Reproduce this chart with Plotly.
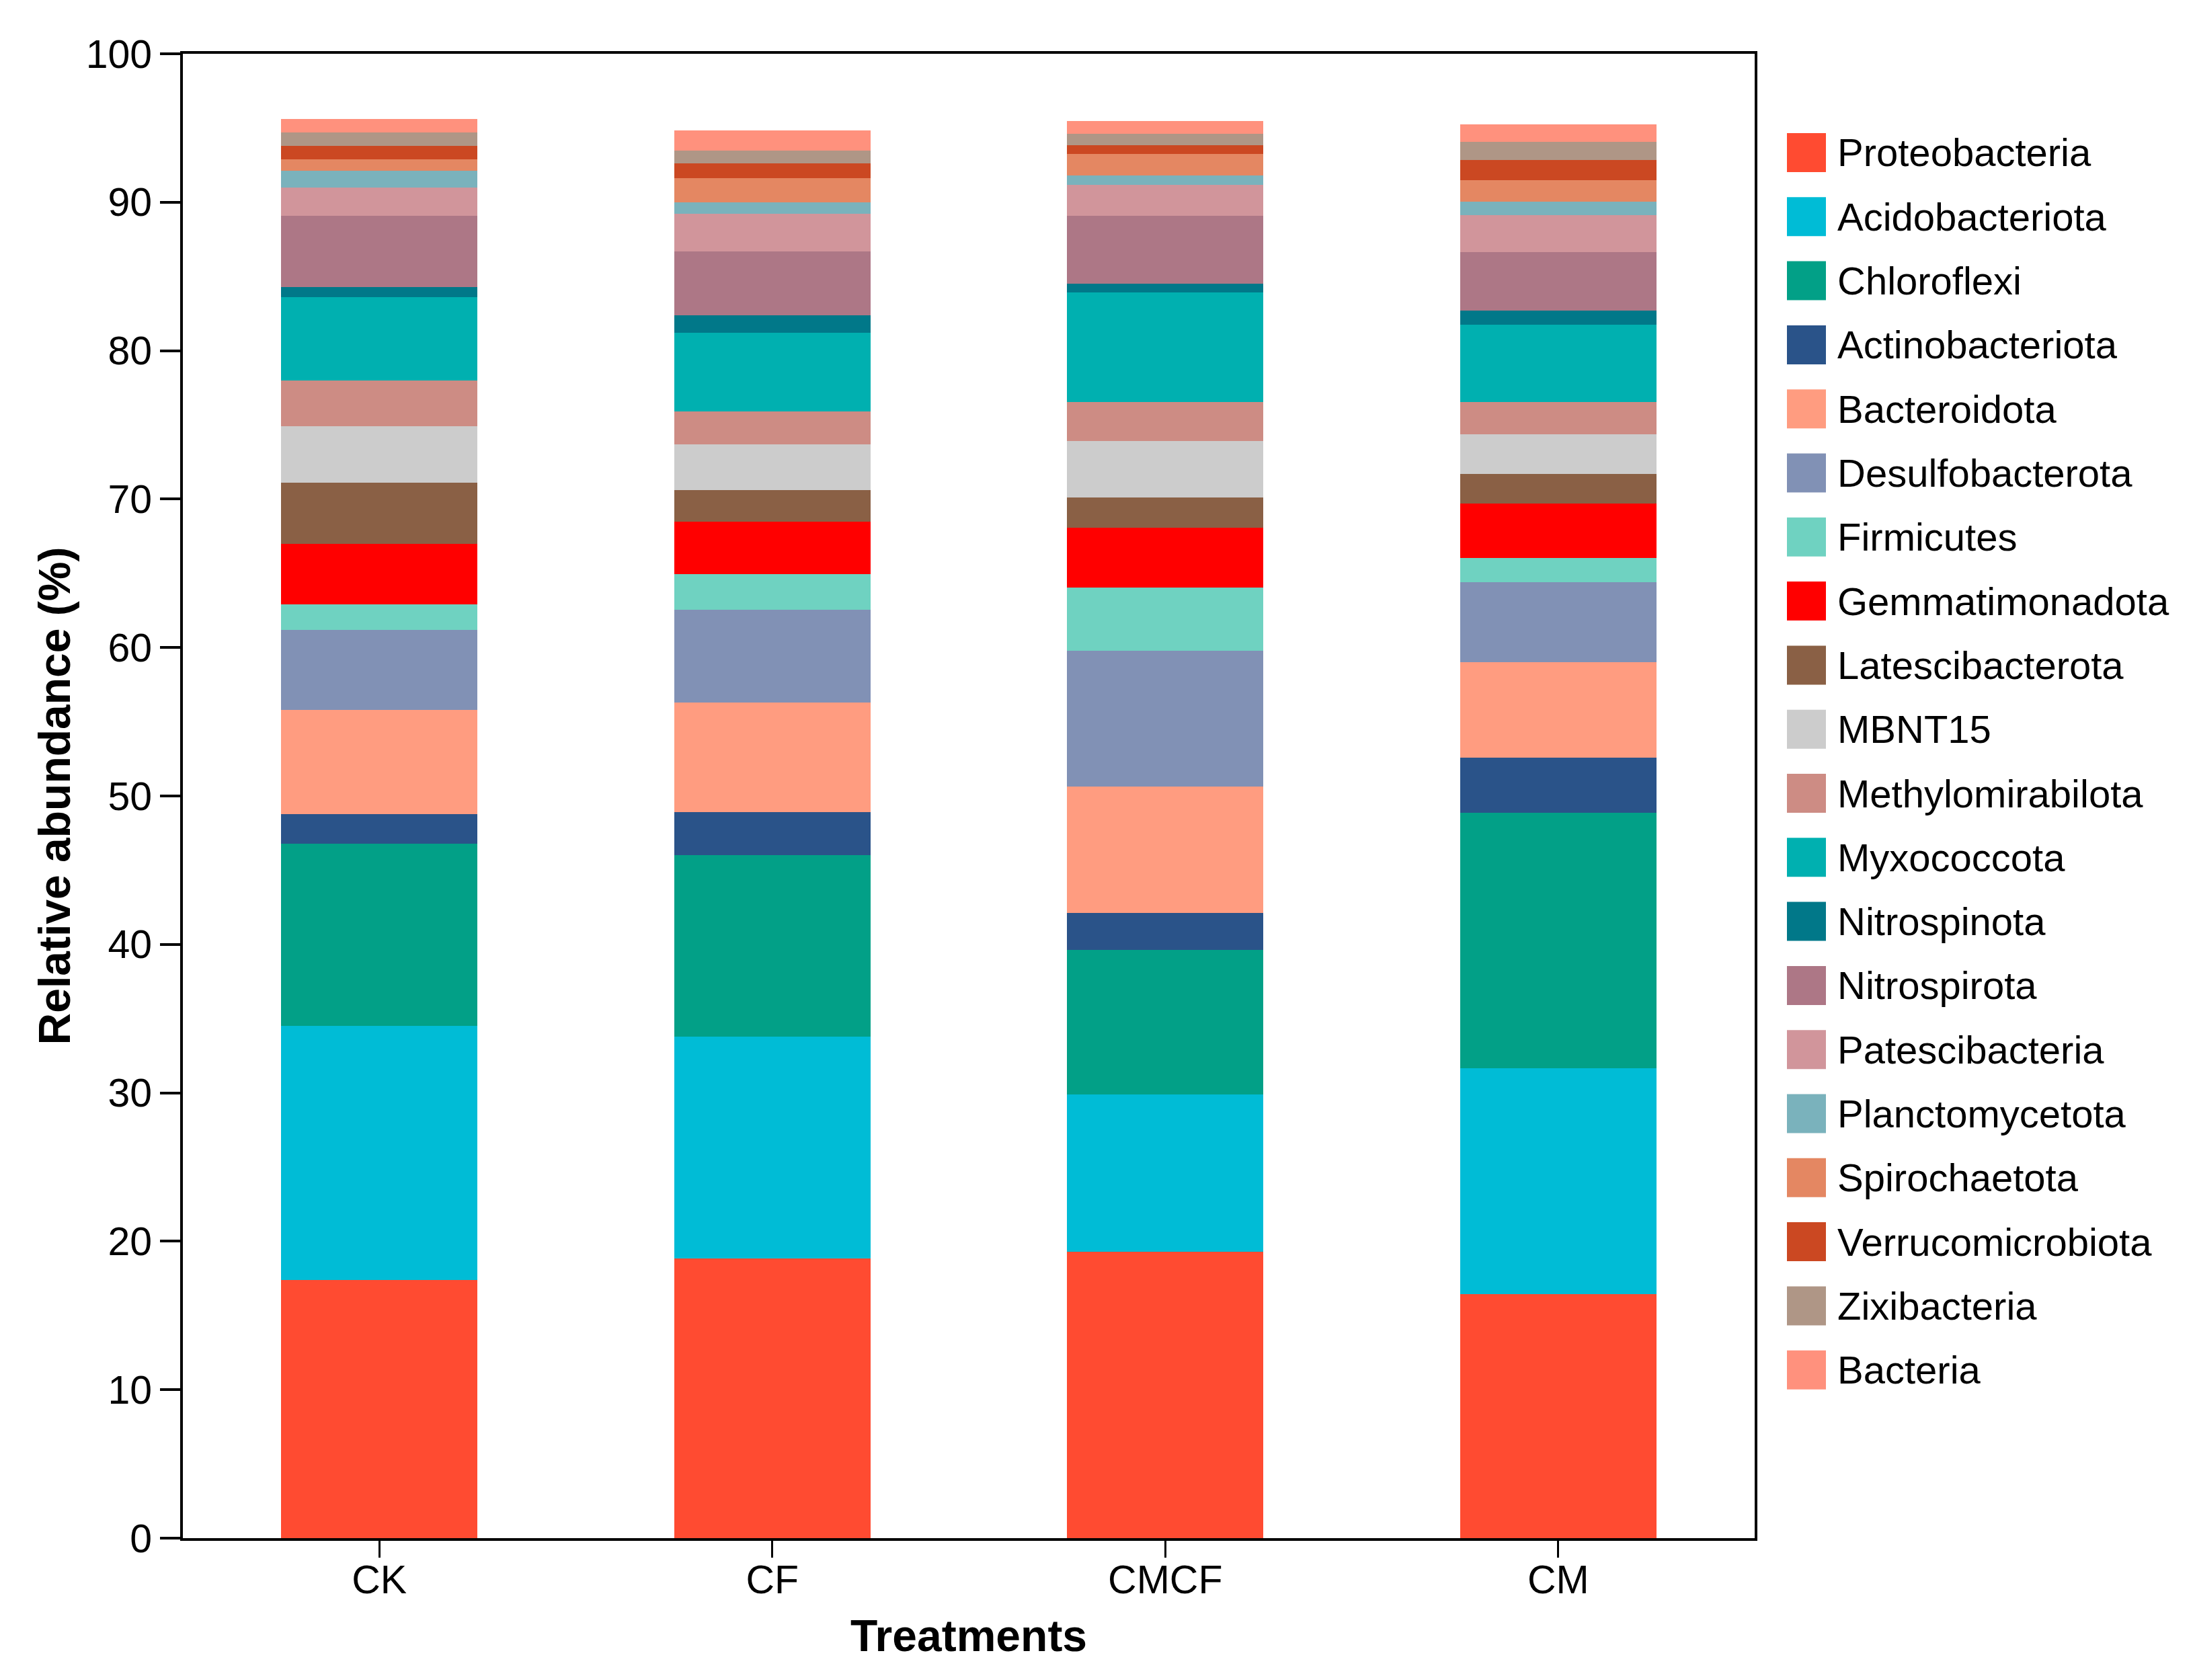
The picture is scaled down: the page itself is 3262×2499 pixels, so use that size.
import plotly.graph_objects as go

# ---------------- data ----------------
treatments = ["CK", "CF", "CMCF", "CM"]

proteobacteria    = [17.40, 18.85, 19.30, 16.45]
acidobacteriota   = [17.10, 14.95, 10.60, 15.20]
chloroflexi       = [12.30, 12.20,  9.75, 17.20]
actinobacteriota  = [ 2.00,  2.90,  2.45,  3.75]
bacteroidota      = [ 7.00,  7.40,  8.55,  6.40]
desulfobacterota  = [ 5.40,  6.25,  9.15,  5.40]
firmicutes        = [ 1.70,  2.40,  4.25,  1.65]
gemmatimonadota   = [ 4.10,  3.55,  4.00,  3.65]
latescibacterota  = [ 4.10,  2.10,  2.05,  2.00]
mbnt15            = [ 3.80,  3.10,  3.80,  2.65]
methylomirabilota = [ 3.10,  2.20,  2.65,  2.20]
myxococcota       = [ 5.60,  5.30,  7.35,  5.20]
nitrospinota      = [ 0.70,  1.20,  0.60,  0.95]
nitrospirota      = [ 4.80,  4.30,  4.60,  3.95]
patescibacteria   = [ 1.90,  2.50,  2.05,  2.50]
planctomycetota   = [ 1.10,  0.80,  0.65,  0.90]
spirochaetota     = [ 0.80,  1.60,  1.45,  1.45]
verrucomicrobiota = [ 0.90,  1.00,  0.60,  1.35]
zixibacteria      = [ 0.90,  0.90,  0.75,  1.20]
bacteria          = [ 0.90,  1.35,  0.85,  1.20]

phyla = ["Proteobacteria", "Acidobacteriota", "Chloroflexi", "Actinobacteriota",
         "Bacteroidota", "Desulfobacterota", "Firmicutes", "Gemmatimonadota",
         "Latescibacterota", "MBNT15", "Methylomirabilota", "Myxococcota",
         "Nitrospinota", "Nitrospirota", "Patescibacteria", "Planctomycetota",
         "Spirochaetota", "Verrucomicrobiota", "Zixibacteria", "Bacteria"]

series = [proteobacteria, acidobacteriota, chloroflexi, actinobacteriota,
          bacteroidota, desulfobacterota, firmicutes, gemmatimonadota,
          latescibacterota, mbnt15, methylomirabilota, myxococcota,
          nitrospinota, nitrospirota, patescibacteria, planctomycetota,
          spirochaetota, verrucomicrobiota, zixibacteria, bacteria]

colors = ["#FF4B31", "#00BCD6", "#02A087", "#2A5389",
          "#FF9C80", "#8191B5", "#6FD2C1", "#FF0000",
          "#8A6045", "#CCCCCC", "#CD8C84", "#00B0B0",
          "#017889", "#AD7786", "#D1959B", "#7AB2BC",
          "#E48762", "#CB4822", "#AF9686", "#FF917D"]

# ---------------- figure ----------------
OFF = 8                      # default page body margin
W, H = 3262 - 2 * OFF, 2499 - 2 * OFF
ML, MT = 272 - OFF, 80 - OFF
PW, PH = 2338, 2208
MR = W - ML - PW
MB = H - MT - PH
FONT = "Liberation Sans, Arial, sans-serif"

fig = go.Figure()
for name, vals, col in zip(phyla, series, colors):
    fig.add_trace(go.Bar(
        x=treatments, y=vals, name=name,
        marker=dict(color=col, line=dict(width=0)),
        width=0.5, showlegend=False,
    ))

# custom legend with large square keys (text stays real text)
leg_x0_px = 2658 - OFF
key_px = 58
row0_px = 227 - OFF
row_step_px = 95.3
shapes = []
annotations = []
for i, (name, col) in enumerate(zip(phyla, colors)):
    cy = row0_px + i * row_step_px
    yc = (MT + PH - cy) / PH
    half = key_px / 2 / PH
    x0 = (leg_x0_px - ML) / PW
    x1 = (leg_x0_px + key_px - ML) / PW
    shapes.append(dict(type="rect", xref="paper", yref="paper",
                       x0=x0, x1=x1, y0=yc - half, y1=yc + half,
                       fillcolor=col, line=dict(width=0)))
    annotations.append(dict(xref="paper", yref="paper",
                            x=(leg_x0_px + key_px + 15 - ML) / PW, y=yc,
                            xanchor="left", yanchor="middle", showarrow=False,
                            text=name, font=dict(family=FONT, size=58, color="black")))

fig.update_layout(
    width=W, height=H,
    barmode="stack",
    plot_bgcolor="white", paper_bgcolor="white",
    margin=dict(l=ML, r=MR, t=MT, b=MB, autoexpand=False),
    font=dict(family=FONT, color="black"),
    shapes=shapes,
    annotations=annotations,
    showlegend=False,
)

fig.update_xaxes(
    range=[-0.5, 3.5],
    showline=True, linecolor="black", linewidth=4, mirror=True,
    ticks="outside", ticklen=25, tickwidth=3, tickcolor="black",
    ticklabelstandoff=-18,
    tickfont=dict(family=FONT, size=59, color="black"),
    title=dict(text="<b>Treatments</b>", font=dict(family=FONT, size=66, color="black"),
               standoff=29),
    showgrid=False, zeroline=False, automargin=False,
)
fig.update_yaxes(
    range=[0, 100], dtick=10,
    showline=True, linecolor="black", linewidth=4, mirror=True,
    ticks="outside", ticklen=30, tickwidth=4, tickcolor="black",
    tickfont=dict(family=FONT, size=59, color="black"),
    title=dict(text="<b>Relative abundance (%)</b>", font=dict(family=FONT, size=66, color="black"),
               standoff=3),
    showgrid=False, zeroline=False, automargin=False,
)

fig.write_html("out.html")
